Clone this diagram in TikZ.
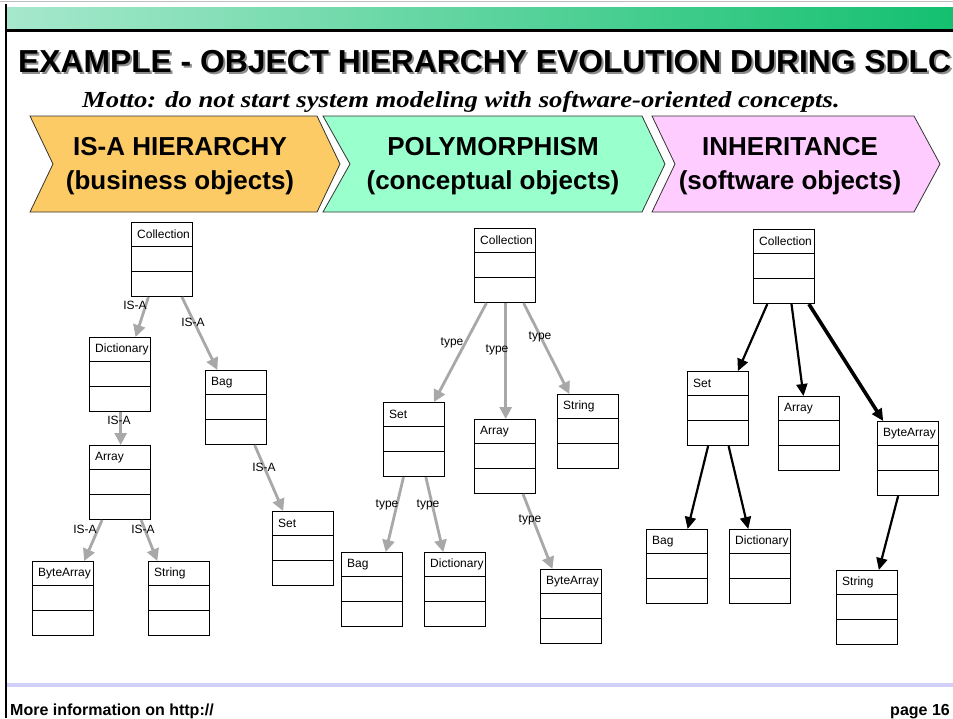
\documentclass[tikz,border=0pt]{standalone}
\usepackage{fontspec}
\setmainfont{Liberation Sans}
\newfontfamily\mottofont{Liberation Serif}
\usetikzlibrary{arrows.meta,calc}
\definecolor{bandL}{HTML}{A6E8CC}
\definecolor{bandR}{HTML}{14C070}
\definecolor{yel}{HTML}{FDCB66}
\definecolor{mint}{HTML}{99FFCC}
\definecolor{pinkc}{HTML}{FFCCFF}
\definecolor{arrgray}{HTML}{A8A8A8}
\definecolor{lav}{HTML}{D0D0FA}
\newcommand\clsbox[4]{%
  \node[cls] (#1) at (#2,#3) {};
  \draw[clsline] ($(#1.north west)+(0,24.7)$) -- ($(#1.north east)+(0,24.7)$);
  \draw[clsline] ($(#1.north west)+(0,49.3)$) -- ($(#1.north east)+(0,49.3)$);
  \node[clslabel] (#1-t) at ($(#1.north west)+(6,12.6)$) {#4};
}
\newcommand\fr[3]{($(#1.#2 west)!#3!(#1.#2 east)$)}
\newcommand\titletext{EXAMPLE - OBJECT HIERARCHY EVOLUTION DURING SDLC}
\begin{document}
\begin{tikzpicture}[x=1pt,y=-1pt,
  cls/.style={draw=black,line width=1.1pt,fill=white,minimum width=61pt,minimum height=74pt,inner sep=0pt,anchor=north west},
  clsline/.style={line width=1.1pt},
  clslabel/.style={anchor=west,inner sep=0pt,font=\fontsize{12}{14}\selectfont},
  lbl/.style={inner sep=0pt,font=\fontsize{12}{14}\selectfont},
  isa/.style={draw=arrgray,line width=2.8pt,-{Triangle[length=12pt,width=12pt]}},
  inh/.style={draw=black,line width=2.2pt,-{Triangle[length=12pt,width=11pt]}},
  chev/.style={draw=black!80,line width=0.8pt},
  chevtext/.style={align=center,inner sep=0pt,font=\fontsize{26}{34}\selectfont\bfseries}
]
\useasboundingbox (0,0) rectangle (953,718);
\fill[white] (0,0) rectangle (953,718);
% frame
\draw[black!25,line width=1.5pt] (0,1.5) -- (953,1.5);
\shade[left color=bandL,right color=bandR] (6,7) rectangle (953,29);
\draw[black,line width=3pt] (6,30) -- (953,30);
\draw[black,line width=2.5pt] (6,4) -- (6,718);
\draw[lav,line width=4.5pt] (7,685) -- (953,685);
% title with shadow (one node)
\node[anchor=base west,inner sep=0pt,font=\fontsize{31.8}{36}\selectfont\bfseries] (title) at (18,72)
  {\makebox[0pt][l]{\hspace{2pt}\raisebox{-2pt}{\color{black!45}\titletext}}\titletext};
\node[anchor=base west,inner sep=0pt,xscale=1.16,font=\mottofont\fontsize{23}{26}\selectfont\bfseries\itshape] (motto) at (82,107) {Motto: do not start system modeling with software-oriented concepts.};
% chevrons
\draw[chev,fill=yel] (30,116) -- (317,116) -- (340,164) -- (317,212) -- (30,212) -- (53,164) -- cycle;
\draw[chev,fill=mint] (323,116) -- (642,116) -- (665,164) -- (642,212) -- (323,212) -- (350,164) -- cycle;
\draw[chev,fill=pinkc] (652,116) -- (914,116) -- (940,164) -- (914,212) -- (652,212) -- (675,164) -- cycle;
\node[chevtext] (h1) at (180,166) {IS-A HIERARCHY\\(business objects)};
\node[chevtext] (h2) at (493,166) {POLYMORPHISM\\(conceptual objects)};
\node[chevtext] (h3) at (790,166) {INHERITANCE\\(software objects)};
% column A
\clsbox{aColl}{131}{222}{Collection}
\clsbox{aDict}{89}{337}{Dictionary}
\clsbox{aBag}{205}{370}{Bag}
\clsbox{aArr}{89}{445}{Array}
\clsbox{aByte}{32}{561}{ByteArray}
\clsbox{aStr}{148}{561}{String}
\clsbox{aSet}{272}{511}{Set}
\draw[isa] \fr{aColl}{south}{.28} -- \fr{aDict}{north}{.75};
\draw[isa] \fr{aColl}{south}{.82} -- \fr{aBag}{north}{.2};
\draw[isa] \fr{aDict}{south}{.51} -- \fr{aArr}{north}{.51};
\draw[isa] \fr{aBag}{south}{.8} -- \fr{aSet}{north}{.18};
\draw[isa] \fr{aArr}{south}{.21} -- \fr{aByte}{north}{.84};
\draw[isa] \fr{aArr}{south}{.84} -- \fr{aStr}{north}{.15};
\node[lbl] (al1) at (135,305) {IS-A};
\node[lbl] (al2) at (193,322) {IS-A};
\node[lbl] (al3) at (119,420) {IS-A};
\node[lbl] (al4) at (264,467) {IS-A};
\node[lbl] (al5) at (85,529) {IS-A};
\node[lbl] (al6) at (143,529) {IS-A};
% column B
\clsbox{bColl}{474}{228}{Collection}
\clsbox{bSet}{383}{402}{Set}
\clsbox{bArr}{474}{419}{Array}
\clsbox{bStr}{557}{394}{String}
\clsbox{bBag}{341}{552}{Bag}
\clsbox{bDict}{424}{552}{Dictionary}
\clsbox{bByte}{540}{569}{ByteArray}
\draw[isa] \fr{bColl}{south}{.2} -- \fr{bSet}{north}{.82};
\draw[isa] \fr{bColl}{south}{.51} -- \fr{bArr}{north}{.51};
\draw[isa] \fr{bColl}{south}{.8} -- \fr{bStr}{north}{.2};
\draw[isa] \fr{bSet}{south}{.33} -- \fr{bBag}{north}{.72};
\draw[isa] \fr{bSet}{south}{.69} -- \fr{bDict}{north}{.31};
\draw[isa] \fr{bArr}{south}{.79} -- \fr{bByte}{north}{.2};
\node[lbl] (bl1) at (452,343) {type};
\node[lbl] (bl2) at (497,350) {type};
\node[lbl] (bl3) at (540,337) {type};
\node[lbl] (bl4) at (387,505) {type};
\node[lbl] (bl5) at (428,505) {type};
\node[lbl] (bl6) at (530,520) {type};
% column C
\clsbox{cColl}{753}{229}{Collection}
\clsbox{cSet}{687}{371}{Set}
\clsbox{cArr}{778}{396}{Array}
\clsbox{cByte}{877}{421}{ByteArray}
\clsbox{cBag}{646}{529}{Bag}
\clsbox{cDict}{729}{529}{Dictionary}
\clsbox{cStr}{836}{570}{String}
\draw[inh] \fr{cColl}{south}{.23} -- \fr{cSet}{north}{.82};
\draw[inh] \fr{cColl}{south}{.62} -- \fr{cArr}{north}{.41};
\draw[inh,line width=3.6pt] \fr{cColl}{south}{.9} -- \fr{cByte}{north}{.1};
\draw[inh] \fr{cSet}{south}{.34} -- \fr{cBag}{north}{.67};
\draw[inh] \fr{cSet}{south}{.67} -- \fr{cDict}{north}{.31};
\draw[inh] \fr{cByte}{south}{.34} -- \fr{cStr}{north}{.69};
% footer
\node[anchor=base west,inner sep=0pt,font=\fontsize{16}{18}\selectfont\bfseries] (foot) at (10,715) {More information on http://};
\node[anchor=base east,inner sep=0pt,font=\fontsize{16}{18}\selectfont\bfseries] (page) at (950,715) {page 16};
\end{tikzpicture}
\end{document}
